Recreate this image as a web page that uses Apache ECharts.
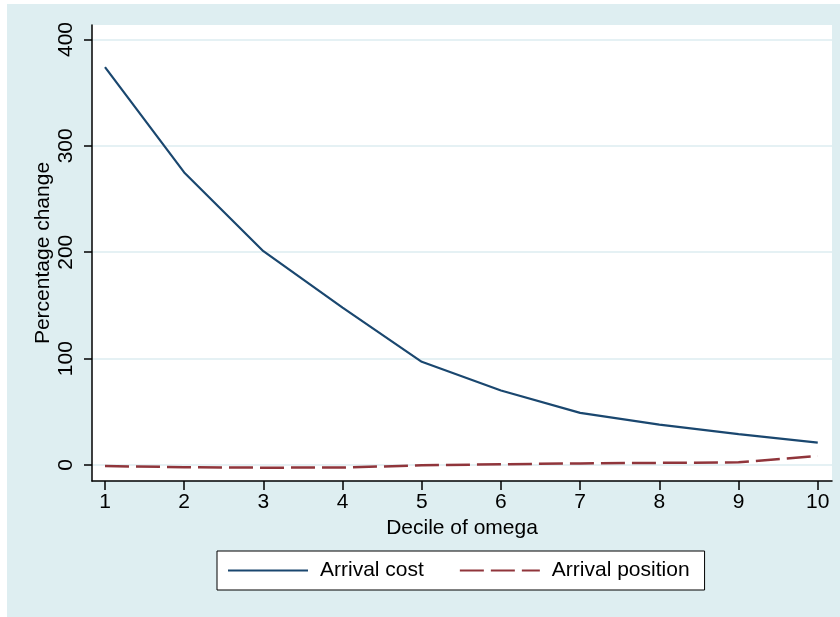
<!DOCTYPE html>
<html>
<head>
<meta charset="utf-8">
<script src="https://cdn.jsdelivr.net/npm/echarts@6/dist/echarts.min.js"></script>
<style>
html,body{margin:0;padding:0;background:#ffffff;width:840px;height:617px;overflow:hidden;}
#chart{position:absolute;left:7px;top:4px;width:833px;height:613px;background:#deeef1;}
</style>
</head>
<body>
<div id="chart"></div>
<script>
const deciles = [1, 2, 3, 4, 5, 6, 7, 8, 9, 10];
const arrivalCost = [374, 275, 201, 148, 97, 70, 49, 38, 29, 21];
const arrivalPosition = [-1, -2, -2.5, -2.4, -0.3, 0.7, 1.5, 2, 2.5, 8.5];
const yTicks = [0, 100, 200, 300, 400];
const xTicks = deciles;

const font = 'Liberation Sans, Arial, Helvetica, sans-serif';
const chart = echarts.init(document.getElementById('chart'), null, {renderer: 'canvas'});
chart.setOption({
  animation: false,
  backgroundColor: 'transparent',
  textStyle: {fontFamily: font},
  grid: {
    left: 85, top: 21, width: 740, height: 456,
    show: true, backgroundColor: '#ffffff', borderWidth: 0
  },
  xAxis: {
    type: 'value', min: 0.836, max: 10.18,
    name: 'Decile of omega', nameLocation: 'middle', nameGap: 32,
    nameTextStyle: {fontSize: 21, color: '#000', fontFamily: font},
    axisLine: {show: true, onZero: false, lineStyle: {color: '#000', width: 1.5}},
    axisTick: {show: true, length: 9, customValues: xTicks, lineStyle: {color: '#000', width: 1.5}},
    axisLabel: {customValues: xTicks, fontSize: 21, color: '#000', margin: 11, fontFamily: font},
    splitLine: {show: false}
  },
  yAxis: {
    type: 'value', min: -15.04, max: 413.6,
    name: 'Percentage change', nameLocation: 'middle', nameGap: 38, nameRotate: 90,
    nameMoveOverlap: false,
    nameTextStyle: {fontSize: 21, color: '#000', fontFamily: font},
    axisLine: {show: true, onZero: false, lineStyle: {color: '#000', width: 1.5}},
    axisTick: {show: true, length: 8, customValues: yTicks, lineStyle: {color: '#000', width: 1.5}},
    axisLabel: {customValues: yTicks, fontSize: 21, color: '#000', rotate: 90, margin: 15, fontFamily: font},
    splitLine: {show: true, lineStyle: {color: '#ddedf0', width: 1.5}}
  },
  legend: {
    left: 210, top: 547,
    backgroundColor: '#ffffff', borderColor: '#000', borderWidth: 1,
    padding: [9, 15, 9, 10],
    itemWidth: 80, itemHeight: 20, itemGap: 35,
    itemStyle: {opacity: 0},
    textStyle: {fontSize: 21, color: '#000', fontFamily: font, padding: [0, 0, 0, 7]},
    data: ['Arrival cost', 'Arrival position']
  },
  series: [
    {
      name: 'Arrival cost', type: 'line', symbol: 'none',
      data: deciles.map((d, i) => [d, arrivalCost[i]]),
      lineStyle: {color: '#1a476f', width: 2.2},
      itemStyle: {color: '#1a476f'}
    },
    {
      name: 'Arrival position', type: 'line', symbol: 'none',
      data: deciles.map((d, i) => [d, arrivalPosition[i]]),
      lineStyle: {color: '#90353b', width: 2.5, type: [24, 7]},
      itemStyle: {color: '#90353b'}
    }
  ]
});
</script>
</body>
</html>
